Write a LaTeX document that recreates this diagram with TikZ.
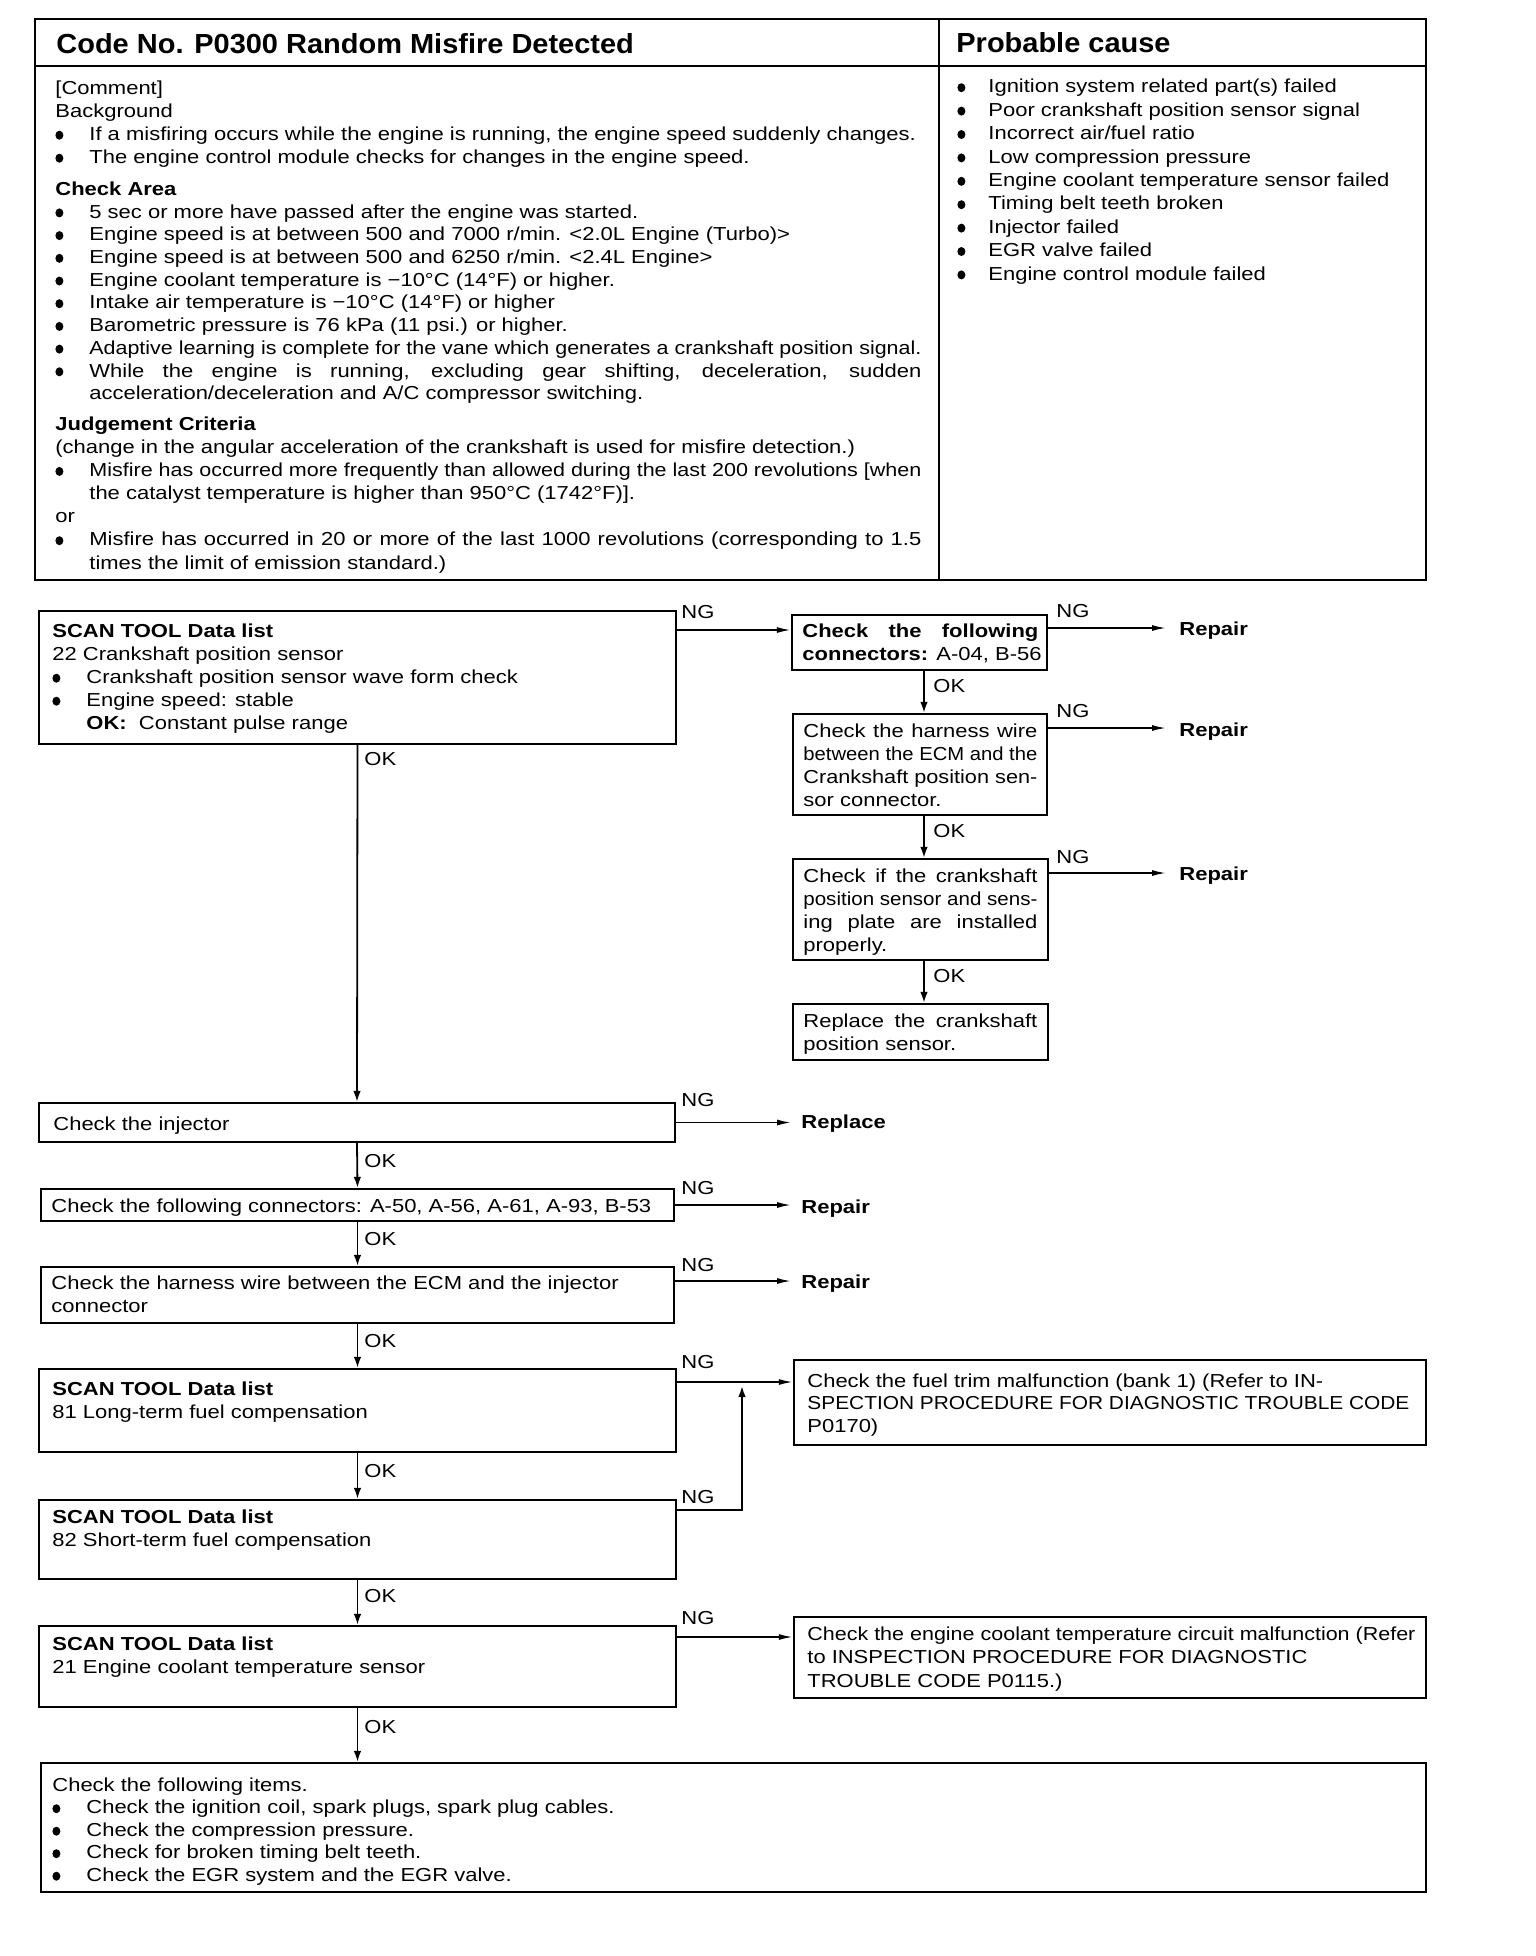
\documentclass[tikz,border=0pt]{standalone}
\usepackage{fontspec}
\usepackage{graphicx}
\setmainfont{Liberation Sans}[FakeStretch=1.17]
\newfontfamily\ttlfont{Liberation Sans}[FakeStretch=1.05]
\usetikzlibrary{arrows.meta,fit}
\newcommand\bodyfont{\fontsize{9.4}{11.5}\selectfont}
\newsavebox\mybox
\newcommand\jline[2]{\sbox\mybox{#2}\ifdim\wd\mybox>#1\relax\resizebox{#1}{\height}{\usebox\mybox}\else\makebox[#1][s]{#2}\fi}
\newcommand\fline[2]{\sbox\mybox{#2}\ifdim\wd\mybox>#1\relax\resizebox{#1}{\height}{\usebox\mybox}\else\usebox\mybox\fi}
\newcommand\bigdot{\tikz[baseline={(0pt,-2.6pt)}]\fill (2pt,0pt) ellipse[x radius=2pt, y radius=2.25pt];}
\newcommand\bul{\makebox[17pt][l]{\bigdot}}
\newcommand\ind{\hspace*{17pt}}
\newcommand\rbul{\makebox[15.5pt][l]{\bigdot}}
\newcommand\st{\rule{0pt}{8.5pt}}
\begin{document}
\begin{tikzpicture}[x=0.5pt,y=-0.5pt,
  box/.style={draw, line width=1.2pt, inner sep=0pt},
  arr/.style={line width=0.8pt, -{Latex[length=7pt,width=3pt]}},
  varr/.style={line width=0.9pt, -{Latex[length=5.5pt,width=3.8pt]}},
  txt/.style={anchor=north west, inner sep=0pt, align=left, font=\bodyfont},
  lbl/.style={anchor=base west, inner sep=0pt, font=\bodyfont},
  bl/.style={anchor=base west, inner sep=0pt, font=\bodyfont\bfseries},
]
\useasboundingbox[fill=white] (0,0) rectangle (1536,1956);
% ---------- header table ----------
\draw[line width=1.4pt] (35,19) rectangle (1426,580);
\draw[line width=1.2pt] (35,66) -- (1426,66);
\draw[line width=1.2pt] (939,19) -- (939,580);
\node[anchor=base west, inner sep=0pt, font=\ttlfont\bfseries\fontsize{13.8}{16}\selectfont] (title) at (56,53) {Code No. P0300 Random Misfire Detected};
\node[anchor=base west, inner sep=0pt, font=\ttlfont\bfseries\fontsize{13.8}{16}\selectfont] (pctitle) at (956,52) {Probable cause};
\node[txt] (bg) at (55,77) {\st[Comment]\\Background\\
\bul\fline{416pt}{If a misfiring occurs while the engine is running, the engine speed suddenly changes.}\\
\bul The engine control module checks for changes in the engine speed.};
\node[txt, font=\fontsize{9.4}{11.35}\selectfont] (ca) at (55,178) {\st\textbf{Check Area}\\
\bul 5 sec or more have passed after the engine was started.\\
\bul Engine speed is at between 500 and 7000 r/min. <2.0L Engine (Turbo)>\\
\bul Engine speed is at between 500 and 6250 r/min. <2.4L Engine>\\
\bul Engine coolant temperature is −10°C (14°F) or higher.\\
\bul Intake air temperature is −10°C (14°F) or higher\\
\bul Barometric pressure is 76 kPa (11 psi.) or higher.\\
\bul\fline{416pt}{Adaptive learning is complete for the vane which generates a crankshaft position signal.}\\
\bul\jline{416pt}{While the engine is running, excluding gear shifting, deceleration, sudden}\\
\ind acceleration/deceleration and A/C compressor switching.};
\node[txt, font=\fontsize{9.4}{11.55}\selectfont] (jc) at (55,413) {\st\textbf{Judgement Criteria}\\
(change in the angular acceleration of the crankshaft is used for misfire detection.)\\
\bul\jline{416pt}{Misfire has occurred more frequently than allowed during the last 200 revolutions [when}\\
\ind the catalyst temperature is higher than 950°C (1742°F)].\\
or\\
\bul\jline{416pt}{Misfire has occurred in 20 or more of the last 1000 revolutions (corresponding to 1.5}\\
\ind times the limit of emission standard.)};
\node[txt, font=\fontsize{9.4}{11.7}\selectfont] (pc) at (957,75.5) {\st\rbul Ignition system related part(s) failed\\
\rbul Poor crankshaft position sensor signal\\
\rbul Incorrect air/fuel ratio\\
\rbul Low compression pressure\\
\rbul Engine coolant temperature sensor failed\\
\rbul Timing belt teeth broken\\
\rbul Injector failed\\
\rbul EGR valve failed\\
\rbul Engine control module failed};
% ---------- flow boxes ----------
\node[box, fit={(39,611)(676,744)}] (A) {};
\node[box, fit={(792,615)(1047,670)}] (B) {};
\node[box, fit={(793,714)(1047,815)}] (C) {};
\node[box, fit={(793,859)(1048,960)}] (D) {};
\node[box, fit={(793,1004)(1048,1060)}] (E) {};
\node[box, fit={(39,1103)(675,1142)}] (F) {};
\node[box, fit={(41,1189)(674,1221)}] (G) {};
\node[box, fit={(41,1267)(674,1323)}] (H) {};
\node[box, fit={(39,1369)(676,1452)}] (I) {};
\node[box, fit={(794,1360)(1426,1445)}] (J) {};
\node[box, fit={(39,1500)(676,1579)}] (K) {};
\node[box, fit={(39,1626)(676,1707)}] (L) {};
\node[box, fit={(794,1617)(1426,1698)}] (M) {};
\node[box, fit={(41,1763)(1426,1892)}] (N) {};
% ---------- box texts ----------
\node[txt] (tA) at (52,620) {\st\textbf{SCAN TOOL Data list}\\22 Crankshaft position sensor\\
\bul Crankshaft position sensor wave form check\\\bul Engine speed: stable\\\ind\textbf{OK:}\ \ Constant pulse range};
\node[txt] (tB) at (802,620) {\st\textbf{\jline{118pt}{Check the following}}\\\textbf{connectors:} A-04, B-56};
\node[txt] (tC) at (803,720) {\st\jline{117pt}{Check the harness wire}\\\jline{117pt}{between the ECM and the}\\\jline{117pt}{Crankshaft position sen-}\\sor connector.};
\node[txt] (tD) at (803,865) {\st\jline{117pt}{Check if the crankshaft}\\\jline{117pt}{position sensor and sens-}\\\jline{117pt}{ing plate are installed}\\properly.};
\node[txt] (tE) at (803,1010) {\st\jline{117pt}{Replace the crankshaft}\\position sensor.};
\node[txt] (tF) at (53,1113) {\st Check the injector};
\node[txt] (tG) at (51,1195) {\st Check the following connectors: A-50, A-56, A-61, A-93, B-53};
\node[txt] (tH) at (51,1272) {\st Check the harness wire between the ECM and the injector\\connector};
\node[txt] (tI) at (52,1378) {\st\textbf{SCAN TOOL Data list}\\81 Long-term fuel compensation};
\node[txt] (tK) at (52,1506) {\st\textbf{SCAN TOOL Data list}\\82 Short-term fuel compensation};
\node[txt] (tL) at (52,1633) {\st\textbf{SCAN TOOL Data list}\\21 Engine coolant temperature sensor};
\node[txt, font=\fontsize{9.4}{11.25}\selectfont] (tJ) at (807,1370) {\st\fline{301pt}{Check the fuel trim malfunction (bank 1) (Refer to IN-}\\\fline{301pt}{SPECTION PROCEDURE FOR DIAGNOSTIC TROUBLE CODE}\\P0170)};
\node[txt, font=\fontsize{9.4}{11.7}\selectfont] (tM) at (807,1623) {\st\fline{304pt}{Check the engine coolant temperature circuit malfunction (Refer}\\\jline{250pt}{to INSPECTION PROCEDURE FOR DIAGNOSTIC}\\TROUBLE CODE P0115.)};
\node[txt, font=\fontsize{9.4}{11.25}\selectfont] (tN) at (52,1774) {\st Check the following items.\\
\bul Check the ignition coil, spark plugs, spark plug cables.\\
\bul Check the compression pressure.\\
\bul Check for broken timing belt teeth.\\
\bul Check the EGR system and the EGR valve.};
% ---------- result labels ----------
\node[bl] (repB) at (1179,635) {Repair};
\node[bl] (repC) at (1179,736) {Repair};
\node[bl] (repD) at (1179,880) {Repair};
\node[bl] (rplF) at (801,1128) {Replace};
\node[bl] (repG) at (801,1213) {Repair};
\node[bl] (repH) at (801,1288) {Repair};
% ---------- NG / OK labels ----------
\node[lbl] (ngtA) at (681,618) {NG};
\node[lbl] (ngtB) at (1056,617) {NG};
\node[lbl] (ngtC) at (1056,717) {NG};
\node[lbl] (ngtD) at (1056,863) {NG};
\node[lbl] (ngtF) at (681,1106) {NG};
\node[lbl] (ngtG) at (681,1194) {NG};
\node[lbl] (ngtH) at (681,1271) {NG};
\node[lbl] (ngtI) at (681,1368) {NG};
\node[lbl] (ngtK) at (681,1503) {NG};
\node[lbl] (ngtL) at (681,1624) {NG};
\node[lbl] (oktA) at (364,765) {OK};
\node[lbl] (oktB) at (933,692) {OK};
\node[lbl] (oktC) at (933,837) {OK};
\node[lbl] (oktD) at (933,982) {OK};
\node[lbl] (oktF) at (364,1167) {OK};
\node[lbl] (oktG) at (364,1245) {OK};
\node[lbl] (oktH) at (364,1347) {OK};
\node[lbl] (oktI) at (364,1477) {OK};
\node[lbl] (oktK) at (364,1602) {OK};
\node[lbl] (oktL) at (364,1733) {OK};
% ---------- connectors ----------
\coordinate (ngA) at (0,630);
\coordinate (ngB) at (0,628);
\coordinate (ngC) at (0,728);
\coordinate (ngD) at (0,873);
\coordinate (ngH) at (0,1281);
\coordinate (ngI) at (0,1382);
\coordinate (ngK) at (0,1510);
\coordinate (ngL) at (0,1637);
\coordinate (rx) at (924,0);
\coordinate (vtop) at (742,1386);
\draw[arr] (A.east |- ngA) -- (B.west |- ngA);
\draw[arr, shorten >=6.5pt] (B.east |- ngB) -- (repB.west |- ngB);
\draw[arr, shorten >=6.5pt] (C.east |- ngC) -- (repC.west |- ngC);
\draw[arr, shorten >=6.5pt] (D.east |- ngD) -- (repD.west |- ngD);
\draw[varr] (B.south -| rx) -- (C.north -| rx);
\draw[varr] (C.south -| rx) -- (D.north -| rx);
\draw[varr] (D.south -| rx) -- (E.north -| rx);
\draw[varr] (A.south) -- (F.north);
\draw[varr] (F.south) -- (G.north);
\draw[varr] (G.south) -- (H.north);
\draw[varr] (H.south) -- (I.north);
\draw[varr] (I.south) -- (K.north);
\draw[varr] (K.south) -- (L.north);
\draw[varr] (L.south) -- (L.south |- N.north);
\draw[arr, shorten >=5pt] (F.east) -- (rplF.west |- F.east);
\draw[arr, shorten >=5pt] (G.east) -- (repG.west |- G.east);
\draw[arr, shorten >=5pt] (H.east |- ngH) -- (repH.west |- ngH);
\draw[arr] (I.east |- ngI) -- (J.west |- ngI);
\draw[varr] (K.east |- ngK) -| (vtop);
\draw[arr] (L.east |- ngL) -- (M.west |- ngL);
\end{tikzpicture}
\end{document}
